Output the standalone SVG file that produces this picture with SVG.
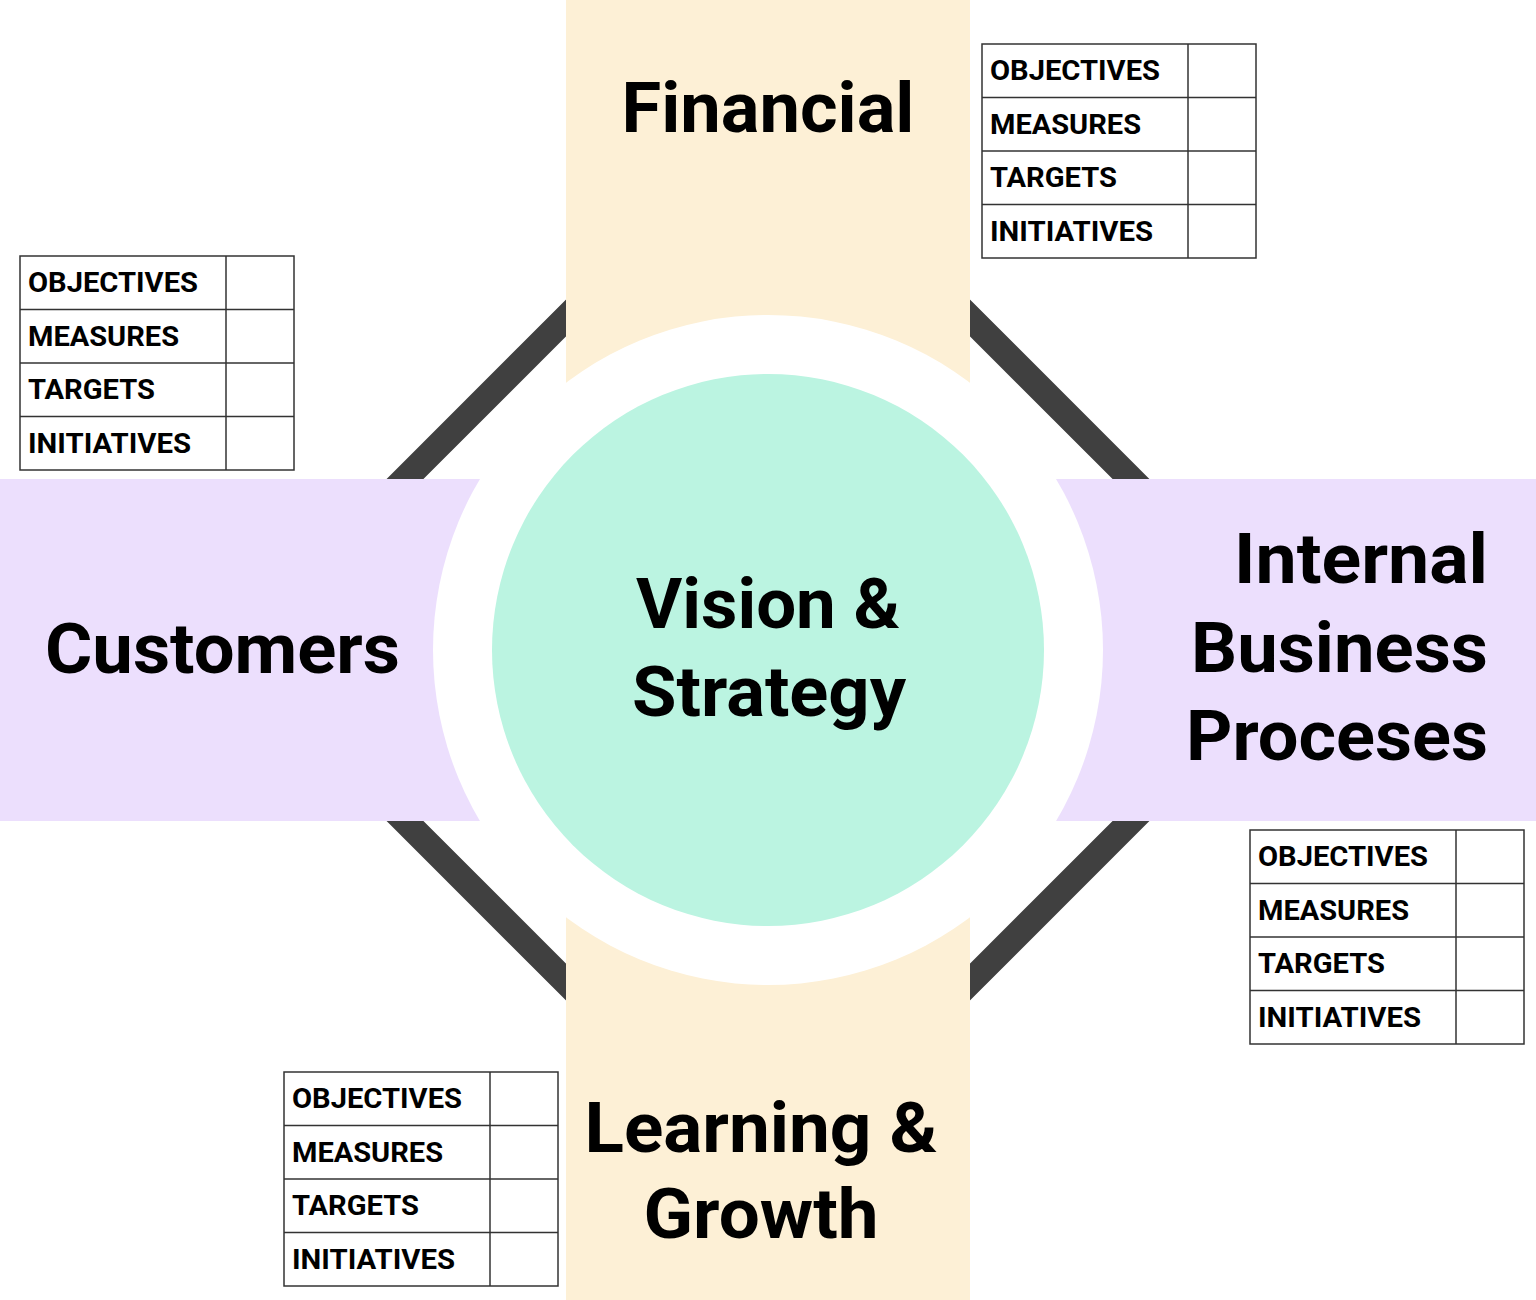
<svg xmlns="http://www.w3.org/2000/svg" width="1536" height="1300" viewBox="0 0 1536 1300">
<style>
.band-v{fill:#FDF0D6}
.band-h{fill:#ECDFFD}
.diag{fill:none;stroke:#404040;stroke-width:26}
.ring{fill:#FFFFFF}
.core{fill:#BBF4E1}
.title{font-family:Roboto,"Liberation Sans",sans-serif;font-weight:700;font-size:70px;fill:#000}
.cell{fill:#FFFFFF;stroke:#333;stroke-width:1.5}
.grid{stroke:#333;stroke-width:1.5}
.lbl{font-family:Roboto,"Liberation Sans",sans-serif;font-weight:700;font-size:27px;fill:#000}
</style>
<defs>
<g id="tbl">
<rect class="cell" x="0" y="0" width="274" height="214"/>
<line class="grid" x1="206" y1="0" x2="206" y2="214"/>
<line class="grid" x1="0" y1="53.5" x2="274" y2="53.5"/>
<line class="grid" x1="0" y1="107" x2="274" y2="107"/>
<line class="grid" x1="0" y1="160.5" x2="274" y2="160.5"/>
<text class="lbl" x="8" y="36" textLength="170" lengthAdjust="spacingAndGlyphs">OBJECTIVES</text>
<text class="lbl" x="8" y="89.5" textLength="151" lengthAdjust="spacingAndGlyphs">MEASURES</text>
<text class="lbl" x="8" y="143" textLength="127" lengthAdjust="spacingAndGlyphs">TARGETS</text>
<text class="lbl" x="8" y="196.5" textLength="163" lengthAdjust="spacingAndGlyphs">INITIATIVES</text>
</g>
</defs>
<g id="connectors">
<polygon class="diag" points="768,116 1302,650 768,1184 234,650"/>
</g>
<g id="bands">
<rect class="band-v" x="566" y="0" width="404" height="1300"/>
<rect class="band-h" x="0" y="479" width="1536" height="342"/>
</g>
<g id="vision">
<circle class="ring" cx="768" cy="650" r="335"/>
<circle class="core" cx="768" cy="650" r="276"/>
<text class="title" x="768" y="628" text-anchor="middle" textLength="264" lengthAdjust="spacingAndGlyphs">Vision &amp;</text>
<text class="title" x="769" y="716" text-anchor="middle" textLength="274" lengthAdjust="spacingAndGlyphs">Strategy</text>
</g>
<g id="financial">
<text class="title" x="768" y="132" text-anchor="middle" textLength="293" lengthAdjust="spacingAndGlyphs">Financial</text>
<use href="#tbl" x="982" y="44"/>
</g>
<g id="customers">
<text class="title" x="45" y="673" textLength="355" lengthAdjust="spacingAndGlyphs">Customers</text>
<use href="#tbl" x="20" y="256"/>
</g>
<g id="internal">
<text class="title" x="1488" y="583" text-anchor="end" textLength="254" lengthAdjust="spacingAndGlyphs">Internal</text>
<text class="title" x="1488" y="672" text-anchor="end" textLength="297" lengthAdjust="spacingAndGlyphs">Business</text>
<text class="title" x="1488" y="760" text-anchor="end" textLength="302" lengthAdjust="spacingAndGlyphs">Proceses</text>
<use href="#tbl" x="1250" y="830"/>
</g>
<g id="learning">
<text class="title" x="761" y="1152" text-anchor="middle" textLength="353" lengthAdjust="spacingAndGlyphs">Learning &amp;</text>
<text class="title" x="761" y="1238" text-anchor="middle" textLength="235" lengthAdjust="spacingAndGlyphs">Growth</text>
<use href="#tbl" x="284" y="1072"/>
</g>
</svg>
